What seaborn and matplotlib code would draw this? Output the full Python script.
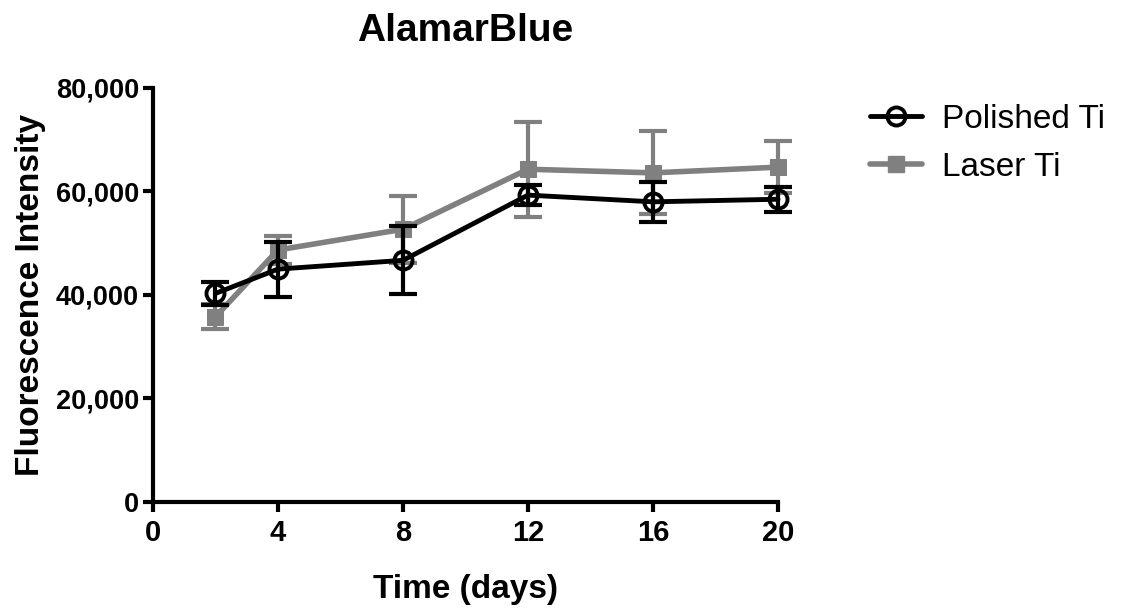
import numpy as np
import pandas as pd
import matplotlib
matplotlib.use("Agg")
import matplotlib.pyplot as plt
from matplotlib.ticker import FuncFormatter
from matplotlib.lines import Line2D
import seaborn as sns

# AlamarBlue fluorescence readings (mean and error) per time point
days = [2, 4, 8, 12, 16, 20]
polished_mean = [40300, 45000, 46700, 59300, 58000, 58500]
polished_err = [2300, 5300, 6600, 2000, 3800, 2400]
laser_mean = [35800, 48700, 52700, 64300, 63600, 64700]
laser_err = [2400, 2700, 6500, 9200, 8000, 5000]
series_names = ["Polished Ti", "Laser Ti"]

x_ticks = [0, 4, 8, 12, 16, 20]
y_ticks = [0, 20000, 40000, 60000, 80000]

sns.set_style("ticks")
plt.rcParams["font.family"] = ["Liberation Sans", "DejaVu Sans"]
plt.rcParams["text.color"] = "black"
plt.rcParams["axes.labelcolor"] = "black"
plt.rcParams["xtick.color"] = "black"
plt.rcParams["ytick.color"] = "black"

df = pd.DataFrame({
    "day": days * 2,
    "value": polished_mean + laser_mean,
    "group": [series_names[0]] * len(days) + [series_names[1]] * len(days),
})

fig = plt.figure(figsize=(11.23, 6.11), dpi=100)
ax = fig.add_axes([0.1362, 0.1784, 0.5566, 0.6776])

gray = "#808080"
black = "#000000"

# Laser Ti drawn first so that the polished series sits on top
eb = ax.errorbar(days, laser_mean, yerr=laser_err, fmt="none", ecolor=gray,
                 elinewidth=3, capsize=10, capthick=3, zorder=2)
for art in eb.lines[1] + eb.lines[2]:
    art.set_clip_on(False)
sns.lineplot(data=df[df["group"] == series_names[1]], x="day", y="value",
             ax=ax, color=gray, linewidth=4, marker="s", markersize=12,
             markerfacecolor=gray, markeredgecolor=gray, errorbar=None,
             legend=False, zorder=3, clip_on=False)

eb = ax.errorbar(days, polished_mean, yerr=polished_err, fmt="none", ecolor=black,
                 elinewidth=3, capsize=10, capthick=3, zorder=4)
for art in eb.lines[1] + eb.lines[2]:
    art.set_clip_on(False)
sns.lineplot(data=df[df["group"] == series_names[0]], x="day", y="value",
             ax=ax, color=black, linewidth=3.5, marker="o", markersize=13,
             markerfacecolor="none", markeredgecolor=black, markeredgewidth=2.8,
             errorbar=None, legend=False, zorder=5, clip_on=False)

ax.set_xlim(0, 20)
ax.set_ylim(0, 80000)
ax.set_xticks(x_ticks)
ax.set_yticks(y_ticks)
ax.yaxis.set_major_formatter(FuncFormatter(lambda v, p: f"{v:,.0f}"))

for side in ["top", "right"]:
    ax.spines[side].set_visible(False)
for side in ["left", "bottom"]:
    ax.spines[side].set_linewidth(3)
    ax.spines[side].set_color(black)
ax.tick_params(axis="both", direction="out", length=7, width=3, color=black)
ax.tick_params(axis="x", labelsize=21, pad=5)
ax.tick_params(axis="y", labelsize=19.5, pad=3)
for lab in ax.get_xticklabels() + ax.get_yticklabels():
    lab.set_fontweight("bold")

ax.set_xlabel("Time (days)", fontsize=24, fontweight="bold", labelpad=20)
ax.set_ylabel("Fluorescence Intensity", fontsize=24, fontweight="bold", labelpad=7)
ax.set_title("AlamarBlue", fontsize=28, fontweight="bold", pad=34)

handles = [
    Line2D([0], [0], color=black, linewidth=3.5, marker="o", markersize=13,
           markerfacecolor="none", markeredgewidth=2.8),
    Line2D([0], [0], color=gray, linewidth=4, marker="s", markersize=12,
           markerfacecolor=gray, markeredgecolor=gray),
]
fig.legend(handles, series_names, loc="upper left",
           bbox_to_anchor=(0.748, 0.879), frameon=False, fontsize=24,
           handlelength=1.55, handletextpad=0.62, labelspacing=0.5)

fig.savefig("out.png", dpi=100)
